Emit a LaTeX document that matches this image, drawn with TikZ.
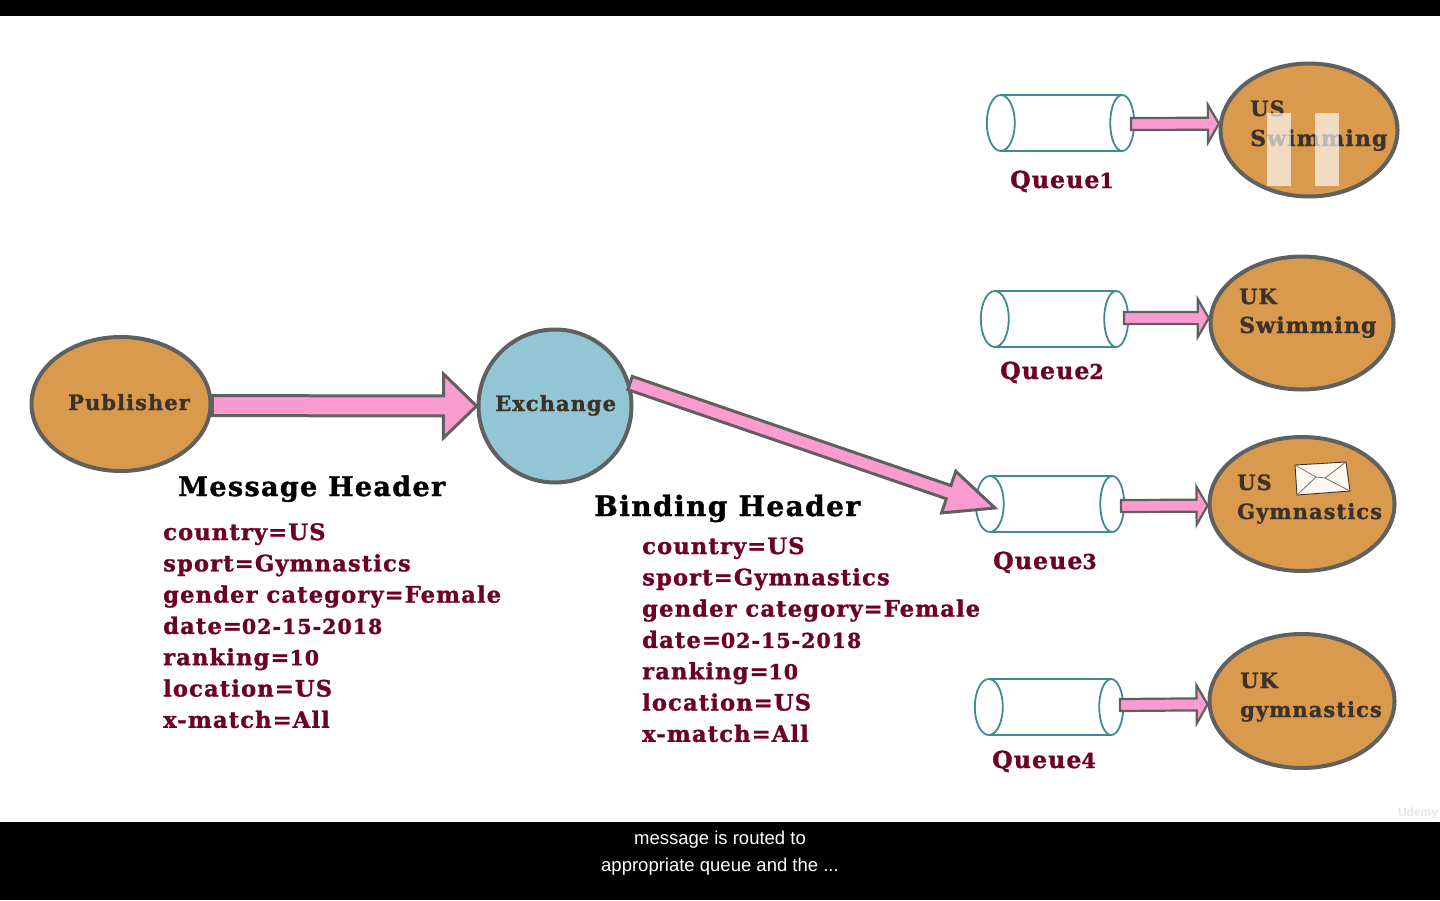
\documentclass[tikz,border=0pt]{standalone}
\usepackage{fontspec}
\newfontfamily\slabfont[LetterSpace=5,FakeBold=1.2]{DejaVu Serif}
\newfontfamily\capfont{Liberation Sans}
\usetikzlibrary{calc,shapes.geometric}
\definecolor{sandfill}{HTML}{D99A4E}
\definecolor{iceblue}{HTML}{93C6D4}
\definecolor{rimgray}{HTML}{5F6060}
\definecolor{tubeteal}{HTML}{3F8A94}
\definecolor{arrowpink}{HTML}{FB9BD0}
\definecolor{winered}{HTML}{6D0026}
\definecolor{inkbrown}{HTML}{3C322A}
\newcommand{\lownum}[1]{{\fontsize{20.5}{20.5}\selectfont #1}}
\tikzset{
    actor/.style={ellipse, draw=rimgray, line width=4pt, fill=sandfill, inner sep=0pt},
    hub/.style={circle, draw=rimgray, line width=4pt, fill=iceblue, inner sep=0pt, minimum size=153pt},
    tube/.style={inner sep=0pt, minimum width=121pt, minimum height=56pt},
    tubeline/.style={draw=tubeteal, line width=1.8pt},
    actortext/.style={anchor=base west, inner sep=0pt, text=inkbrown, font=\slabfont\bfseries\fontsize{21}{21}\selectfont},
    swimtext/.style={actortext, font=\slabfont\bfseries\fontsize{22}{22}\selectfont},
    headtext/.style={anchor=base west, inner sep=0pt, text=black, font=\slabfont\bfseries\fontsize{27}{27}\selectfont},
    listtext/.style={anchor=base west, inner sep=0pt, text=winered, font=\slabfont\bfseries\fontsize{22.6}{22.6}\selectfont},
    queuetext/.style={listtext, font=\slabfont\bfseries\fontsize{23.5}{23.5}\selectfont},
    captext/.style={text=white, font=\capfont\fontsize{18.5}{18.5}\selectfont},
    pausebar/.style={fill=white, opacity=0.65},
    pinkline/.style={draw=rimgray, fill=arrowpink, line width=#1, line join=miter},
    pinkline/.default=2pt
}
% from, to, half shaft, head length, half head, outline
\newcommand{\blockarrow}[6]{%
    \coordinate (headbase) at ($(#2)!#4!(#1)$);
    \draw[pinkline=#6] ($(#1)!#3!90:(#2)$) -- ($(headbase)!#3!90:(#2)$) -- ($(headbase)!#5!90:(#2)$) -- (#2)
        -- ($(headbase)!#5!-90:(#2)$) -- ($(headbase)!#3!-90:(#2)$) -- ($(#1)!#3!-90:(#2)$) -- cycle;
}
% name, left centre x, right centre x, centre y, left radius, right radius
\newcommand{\queuetube}[6]{%
    \node[tube, minimum width={(#3)-(#2)}] (#1) at ({((#2)+(#3))/2}, #4) {};
    \draw[tubeline] (#1.north west) -- (#1.north east);
    \draw[tubeline] (#1.south west) -- (#1.south east);
    \draw[tubeline, fill=white] (#1.west) ellipse (#5pt and 28pt);
    \draw[tubeline] (#1.east) ellipse (#6pt and 28pt);
}
\begin{document}
\begin{tikzpicture}[x=1pt, y=-1pt]
    \useasboundingbox (0, 0) rectangle (1440, 900);
    \fill[white] (0, 0) rectangle (1440, 900);

    % Video bars
    \fill[black] (0, 0) rectangle (1440, 16);
    \fill[black] (0, 822) rectangle (1440, 900);
    \node[captext] (caption1) at (720, 840) {message is routed to};
    \node[captext] (caption2) at (720, 867) {appropriate queue and the ...};
    \node[text=black!10, font=\capfont\bfseries\fontsize{12}{12}\selectfont] (udemy) at (1418, 813) {Udemy};

    % Publisher and exchange
    \node[actor, minimum width=179pt, minimum height=134pt] (publisher) at (121, 404) {};
    \node[hub] (exchange) at (555, 406) {};
    \node[actortext] (publisherlabel) at (68, 410) {Publisher};
    \node[actortext] (exchangelabel) at (495, 411) {Exchange};

    % Queues
    \queuetube{queue1}{1001}{1122}{123}{14}{12}
    \queuetube{queue2}{995}{1116}{319}{14}{12}
    \queuetube{queue3}{990}{1112}{504}{14}{12}
    \queuetube{queue4}{989}{1111}{707}{14}{12}
    \node[queuetext] (queuelabel1) at (1010, 188) {Queue\lownum{1}};
    \node[queuetext] (queuelabel2) at (1000, 379) {Queue\lownum{2}};
    \node[queuetext] (queuelabel3) at (993, 569) {Queue\lownum{3}};
    \node[queuetext] (queuelabel4) at (992, 768) {Queue\lownum{4}};

    % Consumers
    \node[actor, minimum width=177pt, minimum height=133pt] (consumer1) at (1309, 130) {};
    \node[actor, minimum width=183pt, minimum height=133pt] (consumer2) at (1302, 323) {};
    \node[actor, minimum width=185pt, minimum height=134pt] (consumer3) at (1302, 504) {};
    \node[actor, minimum width=185pt, minimum height=134pt] (consumer4) at (1302, 701) {};
    \node[actortext] (us1) at (1250, 116) {US};
    \node[swimtext] (swim1) at (1250, 146) {Swimming};
    \node[actortext] (uk2) at (1239, 304) {UK};
    \node[swimtext] (swim2) at (1239, 333) {Swimming};
    \node[actortext] (us3) at (1237, 490) {US};
    \node[actortext] (gym3) at (1237, 519) {Gymnastics};
    \node[actortext] (uk4) at (1240, 688) {UK};
    \node[actortext] (gym4) at (1240, 717) {gymnastics};

    % Envelope
    \draw[fill=white!92!sandfill, draw=inkbrown, line width=0.9pt] (1295, 465) -- (1346, 462) -- (1350, 491) -- (1297, 495) -- cycle;
    \draw[draw=inkbrown!70, line width=0.8pt] (1295, 465) -- (1316, 477) -- (1325, 478) -- (1346, 462);
    \draw[draw=inkbrown!70, line width=0.8pt] (1297, 495) -- (1316, 477);
    \draw[draw=inkbrown!70, line width=0.8pt] (1325, 478) -- (1350, 491);

    % Paused player mark
    \fill[pausebar] (1267, 113) rectangle (1291, 186);
    \fill[pausebar] (1315, 113) rectangle (1339, 186);

    % Arrows
    \blockarrow{publisher.-1}{exchange.west}{10pt}{33pt}{32pt}{3pt}
    \coordinate (queue3tip) at (995, 508);
    \blockarrow{exchange.17}{queue3tip}{7pt}{49pt}{22pt}{3pt}
    \coordinate (tail1) at (1131, 124);
    \coordinate (tail2) at (1124, 318);
    \coordinate (tail3) at (1121, 506);
    \coordinate (tail4) at (1120, 705);
    \blockarrow{tail1}{consumer1.176}{6pt}{11pt}{19pt}{2.2pt}
    \blockarrow{tail2}{consumer2.177}{6pt}{11pt}{19pt}{2.2pt}
    \blockarrow{tail3}{consumer3.181}{6pt}{11pt}{19pt}{2.2pt}
    \blockarrow{tail4}{consumer4.182}{6pt}{11pt}{19pt}{2.2pt}

    % Header lists
    \node[headtext] (messagehead) at (178, 496) {Message Header};
    \node[headtext, font=\slabfont\bfseries\fontsize{28}{28}\selectfont] (bindinghead) at (594, 516) {Binding Header};
    \foreach \listname/\x/\y in {msg/163/540, bind/642/554} {
        \foreach \entry [count=\i from 0] in {country=US, sport=Gymnastics, gender category=Female, date=\lownum{02-15-2018}, ranking=\lownum{10}, location=US, x-match=All} {
            \node[listtext] (\listname\i) at (\x, {\y+31.3*\i}) {\entry};
        }
    }
\end{tikzpicture}
\end{document}
